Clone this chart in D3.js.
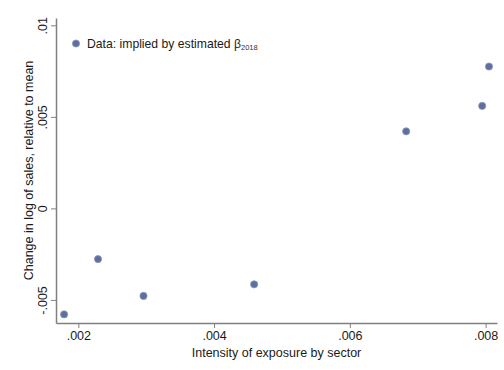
<!DOCTYPE html>
<html>
<head>
<meta charset="utf-8">
<script src="https://cdn.jsdelivr.net/npm/d3@7"></script>
<style>
  body { margin: 0; background: #fff; }
  text { font-family: "Liberation Sans", Arial, sans-serif; fill: #1a1a1a; }
</style>
</head>
<body>
<script>
// data
var exposure = [0.00179, 0.00229, 0.00296, 0.00459, 0.00683, 0.00795, 0.00805];
var salesChange = [-0.00579, -0.00277, -0.00478, -0.00415, 0.00421, 0.0056, 0.00775];
var xTicks = [0.002, 0.004, 0.006, 0.008];
var yTicks = [-0.005, 0, 0.005, 0.01];
var xTickLabels = ['.002', '.004', '.006', '.008'];
var yTickLabels = ['-.005', '0', '.005', '.01'];

var w = 504, h = 370;
var svg = d3.select('body').append('svg').attr('width', w).attr('height', h);

// plot box (named so it doesn't clash with window.top)
var pLeft = 56, pRight = 497, pTop = 18, pBottom = 323;

var x = d3.scaleLinear().domain([0.001671, 0.008168]).range([pLeft, pRight]);
var y = d3.scaleLinear().domain([-0.00626, 0.0104]).range([pBottom, pTop]);

var axisColor = '#808080';

// x axis
var xAxis = svg.append('g').attr('transform', 'translate(0,' + pBottom + ')')
  .call(d3.axisBottom(x).tickValues(xTicks)
    .tickFormat(function(d, i){ return xTickLabels[i]; })
    .tickSize(5).tickSizeOuter(0).tickPadding(3));
xAxis.select('.domain').attr('stroke', axisColor).attr('stroke-width', 1.5);
xAxis.selectAll('.tick line').attr('stroke', axisColor);
xAxis.selectAll('.tick text').attr('font-size', 12.5).style('fill', '#1a1a1a')
  .attr('font-family', '"Liberation Sans", Arial, sans-serif');

// y axis
var yAxis = svg.append('g').attr('transform', 'translate(' + pLeft + ',0)')
  .call(d3.axisLeft(y).tickValues(yTicks)
    .tickFormat(function(d, i){ return yTickLabels[i]; })
    .tickSize(5).tickSizeOuter(0));
yAxis.select('.domain').attr('stroke', axisColor).attr('stroke-width', 1.5);
yAxis.selectAll('.tick line').attr('stroke', axisColor);
yAxis.selectAll('.tick text')
  .attr('font-size', 12.5).style('fill', '#1a1a1a')
  .attr('font-family', '"Liberation Sans", Arial, sans-serif')
  .attr('x', 0).attr('y', 0).attr('dy', 0)
  .attr('text-anchor', 'middle')
  .attr('transform', 'translate(-9,0) rotate(-90)');

// axis titles
svg.append('text')
  .attr('x', (pLeft + pRight) / 2).attr('y', 357)
  .attr('text-anchor', 'middle').attr('font-size', 12.5)
  .text('Intensity of exposure by sector');

svg.append('text')
  .attr('transform', 'translate(33,' + ((pTop + pBottom) / 2) + ') rotate(-90)')
  .attr('text-anchor', 'middle').attr('font-size', 12.5)
  .text('Change in log of sales, relative to mean');

// points
svg.selectAll('circle.pt')
  .data(exposure)
  .enter()
  .append('circle')
  .attr('class', 'pt')
  .attr('r', 3.6)
  .attr('cx', function(d){ return x(d); })
  .attr('cy', function(d, i){ return y(salesChange[i]); })
  .attr('fill', '#5d6f9c')
  .attr('stroke', '#8a98bd')
  .attr('stroke-width', 0.8);

// legend
svg.append('circle').attr('cx', 76).attr('cy', 43.5).attr('r', 3.6)
  .attr('fill', '#5d6f9c').attr('stroke', '#8a98bd').attr('stroke-width', 0.8);
var leg = svg.append('text').attr('x', 87).attr('y', 48).attr('font-size', 12.2);
leg.append('tspan').text('Data: implied by estimated ');
leg.append('tspan').style('fill', '#3d1c22').text('β');
leg.append('tspan').attr('font-size', 7.5).attr('dy', 2).style('fill', '#4a2a2a').text('2018');
</script>
</body>
</html>
